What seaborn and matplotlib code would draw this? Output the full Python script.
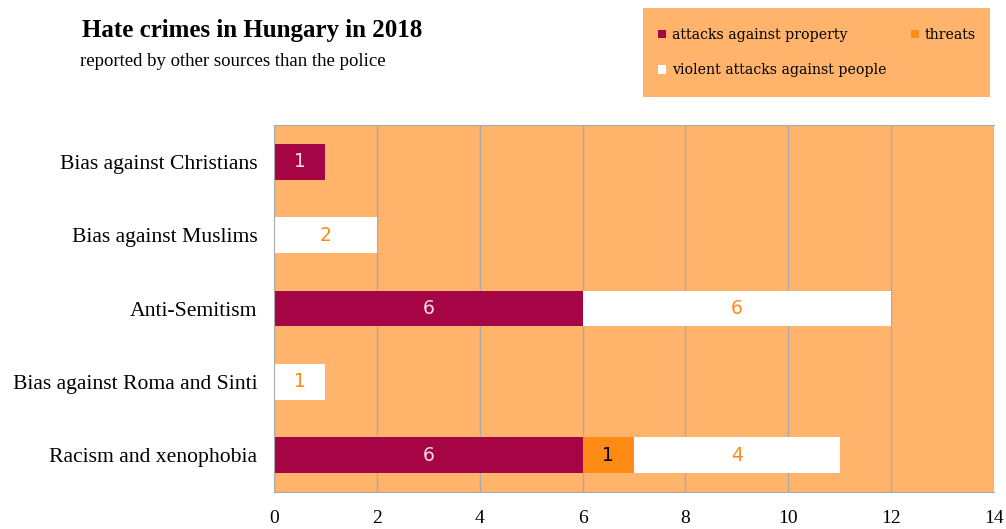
import matplotlib
matplotlib.use("Agg")
import matplotlib.pyplot as plt
import seaborn as sns
import pandas as pd
import numpy as np
from matplotlib.ticker import FixedLocator
from matplotlib.patches import Rectangle

categories = ["Bias against Christians", "Bias against Muslims", "Anti-Semitism",
              "Bias against Roma and Sinti", "Racism and xenophobia"]
attacks_property = [1, 0, 6, 0, 6]
threats = [0, 0, 0, 0, 1]
violent_people = [0, 2, 6, 1, 4]
x_ticks = [0, 2, 4, 6, 8, 10, 12, 14]

PURPLE = "#A50544"
ORANGE = "#FF8A14"
BG = "#FFB36B"
GRID = "#A8ACB0"

df = pd.DataFrame({"category": categories, "property": attacks_property,
                   "threats": threats, "violent": violent_people})
df["c1"] = df["property"]
df["c2"] = df["property"] + df["threats"]
df["c3"] = df["c2"] + df["violent"]

sns.set_style("white")
plt.rcParams["font.family"] = ["Liberation Serif", "DejaVu Serif"]
plt.rcParams["text.color"] = "black"

fig = plt.figure(figsize=(10.06, 5.29), dpi=100)
ax = fig.add_axes([274 / 1006, 1 - 492 / 529, 720 / 1006, 367 / 529])
ax.set_facecolor(BG)

sns.barplot(data=df, y="category", x="c3", color="white", width=0.49,
            saturation=1, ax=ax, label="violent attacks against people", linewidth=0)
sns.barplot(data=df, y="category", x="c2", color=ORANGE, width=0.49,
            saturation=1, ax=ax, label="threats", linewidth=0)
sns.barplot(data=df, y="category", x="c1", color=PURPLE, width=0.49,
            saturation=1, ax=ax, label="attacks against property", linewidth=0)

h, l = ax.get_legend_handles_labels()
if ax.get_legend() is not None:
    ax.get_legend().remove()

ax.set_xlim(0, 14)
ax.set_ylim(4.5, -0.5)
ax.set_xlabel("")
ax.set_ylabel("")
ax.set_xticks(x_ticks)
ax.xaxis.grid(True, color=GRID, linewidth=1)
ax.set_axisbelow(True)
ax.yaxis.grid(False)

# value labels
conts = ax.containers
vals = [df["violent"], df["threats"], df["property"]]
lcolors = ["#FF8A14", "black", "#F8DCEA"]
for cont, v, c in zip(conts, vals, lcolors):
    for b, val in zip(cont, v):
        if val > 0:
            start = b.get_width() - val
            ax.text(start + val / 2, b.get_y() + b.get_height() / 2, str(int(val)),
                    ha="center", va="center", color=c, fontsize=13.5,
                    family=["DejaVu Sans"])

for s in ["left", "bottom", "top"]:
    ax.spines[s].set_visible(True)
    ax.spines[s].set_color(GRID)
ax.spines["right"].set_visible(False)

ax.tick_params(axis="y", which="major", length=0, labelsize=15.6, pad=12, labelcolor="black")
ax.yaxis.set_minor_locator(FixedLocator(np.arange(-0.5, 5, 1)))
ax.tick_params(axis="y", which="minor", length=9, color=GRID, width=1)
ax.tick_params(axis="x", which="major", length=7, color=GRID, width=1, labelsize=14,
               labelcolor="black", pad=6)

# legend background box
fig.patches.append(Rectangle((643 / 1006, 1 - 97 / 529), 347 / 1006, 89 / 529,
                             transform=fig.transFigure, facecolor=BG, edgecolor="none",
                             zorder=0))

order = {lab: hh for hh, lab in zip(h, l)}
hs = [order["attacks against property"], order["violent attacks against people"], order["threats"]]
ls = ["attacks against property", "violent attacks against people", "threats"]
leg = fig.legend(hs, ls, ncol=2, loc="upper left",
                 bbox_to_anchor=(658 / 1006, 1 - 90 / 529, 318 / 1006, 62 / 529),
                 mode="expand", frameon=False,
                 prop={"family": ["DejaVu Serif"], "size": 10.2},
                 handlelength=0.55, handleheight=0.55, handletextpad=0.45,
                 borderpad=0, labelspacing=1.5, borderaxespad=0)

fig.text(82 / 1006, 1 - 30 / 529, "Hate crimes in Hungary in 2018", fontsize=18,
         fontweight="bold", va="center", ha="left")
fig.text(80 / 1006, 1 - 62 / 529, "reported by other sources than the police", fontsize=13.5,
         va="center", ha="left")

fig.savefig("out.png", dpi=100)
